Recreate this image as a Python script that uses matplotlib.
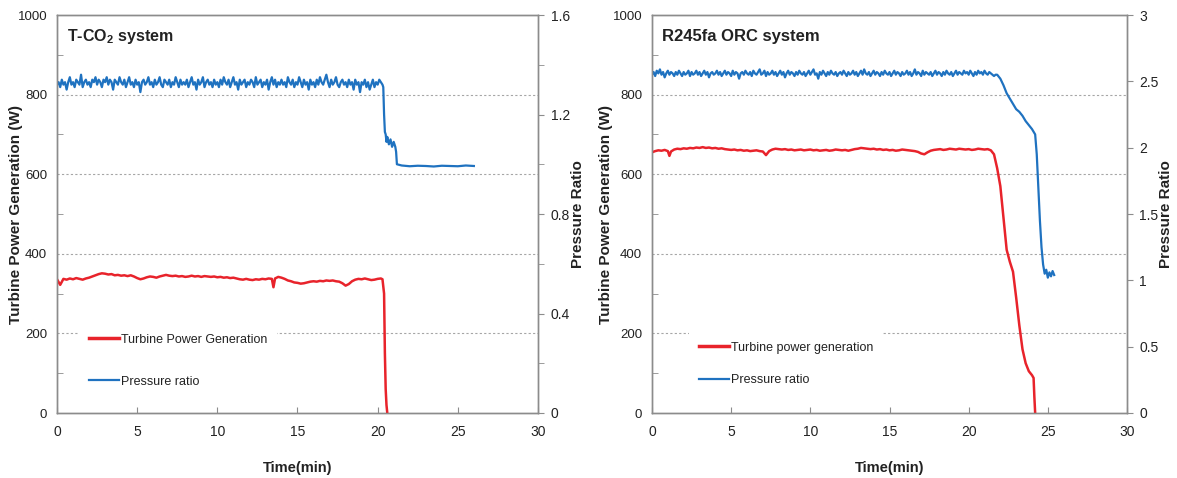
import numpy as np
import matplotlib
matplotlib.use('Agg')
import matplotlib.pyplot as plt
from matplotlib.ticker import MultipleLocator
from matplotlib.lines import Line2D

# ---- T-CO2 system ----
# pressure ratio logged every 0.1 min until the shutdown
tco2_pr_t = np.round(np.arange(0, 20.35, 0.1), 2)
tco2_pr = [
    1.32, 1.33, 1.31, 1.34, 1.32, 1.33, 1.30, 1.33, 1.35, 1.32, 1.33, 1.31, 1.34, 1.33, 1.32, 1.36, 1.31, 1.33, 1.34, 1.32,
    1.33, 1.31, 1.34, 1.33, 1.35, 1.32, 1.34, 1.33, 1.31, 1.34, 1.33, 1.35, 1.32, 1.34, 1.33, 1.30, 1.34, 1.33, 1.32, 1.35,
    1.33, 1.32, 1.34, 1.31, 1.33, 1.35, 1.32, 1.33, 1.31, 1.34, 1.32, 1.33, 1.29, 1.33, 1.34, 1.32, 1.33, 1.35, 1.32, 1.33,
    1.31, 1.34, 1.32, 1.33, 1.35, 1.32, 1.31, 1.34, 1.33, 1.32, 1.34, 1.31, 1.33, 1.32, 1.35, 1.33, 1.31, 1.34, 1.32, 1.33,
    1.32, 1.34, 1.31, 1.33, 1.35, 1.32, 1.33, 1.30, 1.34, 1.32, 1.33, 1.35, 1.31, 1.33, 1.34, 1.32, 1.33, 1.31, 1.34, 1.32,
    1.33, 1.31, 1.34, 1.32, 1.35, 1.33, 1.32, 1.34, 1.31, 1.33, 1.35, 1.32, 1.33, 1.30, 1.34, 1.32, 1.33, 1.34, 1.31, 1.33,
    1.32, 1.34, 1.33, 1.31, 1.35, 1.32, 1.33, 1.34, 1.31, 1.33, 1.32, 1.34, 1.30, 1.33, 1.35, 1.32, 1.34, 1.31, 1.33, 1.32,
    1.34, 1.32, 1.33, 1.31, 1.35, 1.33, 1.32, 1.34, 1.31, 1.33, 1.32, 1.35, 1.33, 1.31, 1.34, 1.32, 1.33, 1.30, 1.34, 1.32,
    1.33, 1.31, 1.34, 1.32, 1.35, 1.33, 1.32, 1.34, 1.36, 1.33, 1.31, 1.34, 1.32, 1.33, 1.35, 1.32, 1.31, 1.33, 1.34, 1.32,
    1.33, 1.31, 1.34, 1.32, 1.33, 1.30, 1.34, 1.32, 1.33, 1.29, 1.33, 1.32, 1.34, 1.31, 1.33, 1.30, 1.32, 1.34, 1.31, 1.33,
    1.32, 1.34, 1.33, 1.32,
]
tco2_pr_tail_t = [20.35, 20.4, 20.45, 20.5, 20.55, 20.6, 20.7, 20.8, 20.9, 21.0, 21.1, 21.15, 21.2,
                  21.5, 22.0, 22.5, 23.0, 23.5, 24.0, 24.5, 25.0, 25.5, 26.0]
tco2_pr_tail = [1.31, 1.20, 1.13, 1.12, 1.09, 1.11, 1.08, 1.10, 1.07, 1.09, 1.07, 1.05, 1.00,
                0.995, 0.992, 0.994, 0.993, 0.991, 0.994, 0.993, 0.992, 0.995, 0.993]

# turbine power (W)
tco2_pw_t = [0.0, 0.2, 0.4, 0.6, 0.8, 1.0, 1.2, 1.4, 1.6, 1.8, 2.0, 2.2, 2.4, 2.6, 2.8, 3.0, 3.2, 3.4, 3.6, 3.8,
             4.0, 4.2, 4.4, 4.6, 4.8, 5.0, 5.2, 5.4, 5.6, 5.8, 6.0, 6.2, 6.4, 6.6, 6.8, 7.0, 7.2, 7.4, 7.6, 7.8,
             8.0, 8.2, 8.4, 8.6, 8.8, 9.0, 9.2, 9.4, 9.6, 9.8, 10.0, 10.2, 10.4, 10.6, 10.8, 11.0, 11.2, 11.4,
             11.6, 11.8, 12.0, 12.2, 12.4, 12.6, 12.8, 13.0, 13.2, 13.4, 13.5, 13.6, 13.8, 14.0, 14.2, 14.4,
             14.6, 14.8, 15.0, 15.2, 15.4, 15.6, 15.8, 16.0, 16.2, 16.4, 16.6, 16.8, 17.0, 17.2, 17.4, 17.6,
             17.8, 18.0, 18.2, 18.4, 18.6, 18.8, 19.0, 19.2, 19.4, 19.6, 19.8, 20.0, 20.2, 20.3, 20.4, 20.45,
             20.5, 20.55, 20.6]
tco2_pw = [336, 322, 337, 335, 338, 336, 339, 337, 335, 338, 340, 343, 346, 349, 351, 350, 348, 349, 346, 347,
           345, 346, 344, 346, 343, 339, 336, 338, 341, 343, 342, 340, 343, 345, 347, 345, 344, 345, 343, 344,
           342, 343, 345, 343, 344, 342, 344, 343, 342, 343, 341, 342, 340, 341, 339, 340, 338, 336,
           335, 337, 335, 334, 336, 335, 337, 336, 338, 337, 316, 338, 342, 340, 337, 333,
           331, 328, 327, 325, 326, 328, 330, 331, 330, 332, 331, 333, 332, 333, 331, 330,
           326, 320, 324, 331, 335, 337, 336, 338, 336, 334, 335, 337, 338, 336, 300, 150,
           60, 20, 0]

# ---- R245fa ORC system ----
orc_pr_t = np.round(np.arange(0, 21.75, 0.1), 2)
orc_pr = [
    2.55, 2.57, 2.54, 2.58, 2.56, 2.59, 2.55, 2.57, 2.53, 2.56, 2.58, 2.55, 2.57, 2.56, 2.54, 2.57, 2.55, 2.58, 2.56, 2.54,
    2.57, 2.55, 2.56, 2.58, 2.54, 2.57, 2.55, 2.56, 2.58, 2.55, 2.57, 2.54, 2.56, 2.58, 2.55, 2.57, 2.53, 2.56, 2.57, 2.55,
    2.56, 2.58, 2.55, 2.57, 2.54, 2.56, 2.58, 2.55, 2.57, 2.56, 2.54, 2.58, 2.55, 2.57, 2.56, 2.52, 2.56, 2.57, 2.55, 2.58,
    2.56, 2.55, 2.57, 2.54, 2.58, 2.56, 2.55, 2.57, 2.59, 2.55, 2.56, 2.58, 2.54, 2.57, 2.55, 2.56, 2.58, 2.55, 2.57, 2.54,
    2.56, 2.58, 2.55, 2.57, 2.53, 2.56, 2.58, 2.55, 2.57, 2.56, 2.54, 2.57, 2.55, 2.58, 2.56, 2.55, 2.57, 2.54, 2.56, 2.58,
    2.55, 2.57, 2.59, 2.55, 2.56, 2.52, 2.57, 2.55, 2.58, 2.56, 2.54, 2.57, 2.55, 2.58, 2.56, 2.55, 2.57, 2.54, 2.56, 2.57,
    2.55, 2.58, 2.56, 2.54, 2.57, 2.55, 2.56, 2.58, 2.55, 2.57, 2.54, 2.56, 2.58, 2.55, 2.59, 2.56, 2.55, 2.57, 2.54, 2.56,
    2.58, 2.55, 2.57, 2.56, 2.54, 2.57, 2.55, 2.58, 2.56, 2.55, 2.57, 2.54, 2.56, 2.58, 2.55, 2.57, 2.56, 2.54, 2.57, 2.55,
    2.56, 2.58, 2.55, 2.57, 2.54, 2.56, 2.59, 2.55, 2.57, 2.56, 2.54, 2.58, 2.55, 2.57, 2.56, 2.55, 2.57, 2.54, 2.56, 2.58,
    2.55, 2.57, 2.56, 2.54, 2.57, 2.55, 2.58, 2.56, 2.55, 2.57, 2.54, 2.56, 2.58, 2.55, 2.57, 2.56, 2.55, 2.58, 2.56, 2.57,
    2.55, 2.58, 2.56, 2.54, 2.57, 2.55, 2.58, 2.56, 2.57, 2.55, 2.58, 2.56, 2.55, 2.57, 2.56, 2.55, 2.54, 2.55,
]
orc_pr_tail_t = [21.8, 22.0, 22.2, 22.4, 22.6, 22.8, 23.0, 23.2, 23.4, 23.6, 23.8, 24.0, 24.1, 24.2, 24.3,
                 24.4, 24.5, 24.6, 24.7, 24.8, 24.9, 25.0, 25.1, 25.2, 25.3, 25.4]
orc_pr_tail = [2.55, 2.52, 2.47, 2.41, 2.37, 2.33, 2.29, 2.27, 2.24, 2.20, 2.17, 2.14, 2.12, 2.10, 1.95,
               1.70, 1.45, 1.25, 1.12, 1.05, 1.08, 1.02, 1.06, 1.03, 1.07, 1.04]

orc_pw_t = [0.0, 0.2, 0.4, 0.6, 0.8, 1.0, 1.1, 1.2, 1.4, 1.6, 1.8, 2.0, 2.2, 2.4, 2.6, 2.8, 3.0, 3.2, 3.4,
            3.6, 3.8, 4.0, 4.2, 4.4, 4.6, 4.8, 5.0, 5.2, 5.4, 5.6, 5.8, 6.0, 6.2, 6.4, 6.6, 6.8, 7.0, 7.2,
            7.4, 7.6, 7.8, 8.0, 8.2, 8.4, 8.6, 8.8, 9.0, 9.2, 9.4, 9.6, 9.8, 10.0, 10.2, 10.4, 10.6, 10.8,
            11.0, 11.2, 11.4, 11.6, 11.8, 12.0, 12.2, 12.4, 12.6, 12.8, 13.0, 13.2, 13.4, 13.6, 13.8, 14.0,
            14.2, 14.4, 14.6, 14.8, 15.0, 15.2, 15.4, 15.6, 15.8, 16.0, 16.2, 16.4, 16.6, 16.8, 17.0, 17.2,
            17.4, 17.6, 17.8, 18.0, 18.2, 18.4, 18.6, 18.8, 19.0, 19.2, 19.4, 19.6, 19.8, 20.0, 20.2, 20.4,
            20.6, 20.8, 21.0, 21.2, 21.4, 21.6, 21.8, 22.0, 22.2, 22.4, 22.6, 22.8, 23.0, 23.2, 23.4, 23.6,
            23.8, 24.0, 24.1, 24.15, 24.2]
orc_pw = [655, 658, 660, 659, 661, 658, 646, 657, 662, 664, 663, 665, 664, 666, 665, 667, 666, 668, 666,
          667, 665, 666, 664, 665, 663, 662, 661, 662, 660, 661, 659, 660, 658, 659, 660, 658, 657, 648,
          658, 662, 664, 663, 662, 663, 661, 662, 660, 661, 662, 660, 661, 662, 660, 661, 659, 660,
          661, 659, 660, 662, 661, 660, 661, 659, 661, 663, 664, 666, 665, 664, 663, 664,
          662, 663, 661, 662, 660, 661, 659, 660, 662, 661, 660, 659, 658, 656, 652, 650,
          655, 659, 661, 662, 663, 661, 662, 664, 663, 662, 664, 663, 662, 663, 661, 662,
          664, 663, 662, 663, 660, 650, 615, 570, 490, 410, 380, 355, 290, 220, 160, 125,
          105, 95, 88, 40, 0]

RED = '#e8232b'
BLUE = '#1f72c0'
GRID = '#a6a6a6'
SPINE = '#8c8c8c'
INK = '#222222'

plt.rcParams['font.family'] = ['Liberation Sans', 'DejaVu Sans']
plt.rcParams['mathtext.fontset'] = 'custom'
plt.rcParams['mathtext.bf'] = 'Liberation Sans:bold'
plt.rcParams['mathtext.rm'] = 'Liberation Sans'

fig = plt.figure(figsize=(11.77, 4.78), dpi=100)
ax1 = fig.add_axes([57 / 1177, 65 / 478, 481 / 1177, 398 / 478])
ax2 = fig.add_axes([652 / 1177, 65 / 478, 475 / 1177, 398 / 478])


def fmt_num(v, pos):
    return '%g' % round(v, 2)


def style_panel(ax, axr, title, title_size, rmax, rmajor, rminor, ylx, yrx):
    ax.set_xlim(0, 30)
    ax.set_ylim(0, 1000)
    axr.set_ylim(0, rmax)
    ax.xaxis.set_major_locator(MultipleLocator(5))
    ax.yaxis.set_major_locator(MultipleLocator(200))
    ax.yaxis.set_minor_locator(MultipleLocator(100))
    axr.yaxis.set_major_locator(MultipleLocator(rmajor))
    axr.yaxis.set_minor_locator(MultipleLocator(rminor))
    axr.yaxis.set_major_formatter(fmt_num)
    for a in (ax, axr):
        for s in a.spines.values():
            s.set_color(SPINE)
            s.set_linewidth(1.0)
    ax.tick_params(axis='both', which='both', direction='in', color=SPINE, length=4,
                   labelsize=9.5, labelcolor=INK)
    ax.tick_params(axis='x', pad=9, labelsize=10)
    ax.tick_params(axis='y', which='major', length=0, pad=7)
    axr.tick_params(axis='y', which='both', direction='out', color=SPINE, length=4,
                    labelsize=10, labelcolor=INK, pad=5)
    for v in (200, 400, 600, 800):
        ax.axhline(v, color=GRID, lw=0.8, ls=(0, (2, 2)), zorder=0)
    ax.set_xlabel('Time(min)', fontweight='bold', fontsize=10.5, color=INK)
    ax.xaxis.set_label_coords(0.5, -0.12)
    ax.set_ylabel('Turbine Power Generation (W)', fontweight='bold', fontsize=11, color=INK)
    ax.yaxis.set_label_coords(ylx, 0.5)
    axr.set_ylabel('Pressure Ratio', fontweight='bold', fontsize=11, color=INK)
    axr.yaxis.set_label_coords(yrx, 0.5)
    ax.text(0.02, 0.945, title, transform=ax.transAxes, fontweight='bold',
            fontsize=title_size, va='center', ha='left', color=INK)


# left panel
ax1r = ax1.twinx()
ax1.plot(tco2_pw_t, tco2_pw, color=RED, lw=1.8, zorder=3)
ax1r.plot(np.concatenate([tco2_pr_t, tco2_pr_tail_t]), tco2_pr + tco2_pr_tail, color=BLUE, lw=1.6)
style_panel(ax1, ax1r, r'T-CO$_\mathbf{2}$ system', 11.5, 1.6, 0.4, 0.2, -0.07, 1.069)

# right panel
ax2r = ax2.twinx()
ax2.plot(orc_pw_t, orc_pw, color=RED, lw=1.8, zorder=3)
ax2r.plot(np.concatenate([orc_pr_t, orc_pr_tail_t]), orc_pr + orc_pr_tail, color=BLUE, lw=1.6)
style_panel(ax2, ax2r, 'R245fa ORC system', 12, 3, 0.5, 0.5, -0.082, 1.068)

# legends sit on the twin axes so their white boxes cover the gridlines
for axr, labels, anchor, spacing in (
        (ax1r, ['Turbine Power Generation', 'Pressure ratio'], (0.033, 0.24), 2.4),
        (ax2r, ['Turbine power generation', 'Pressure ratio'], (0.065, 0.22), 1.65)):
    handles = [Line2D([], [], color=RED, lw=2.5), Line2D([], [], color=BLUE, lw=1.6)]
    leg = axr.legend(handles, labels, loc='upper left', bbox_to_anchor=anchor,
                     frameon=True, fancybox=False, handlelength=2.4, handletextpad=0.15,
                     labelspacing=spacing, fontsize=9, borderpad=0.8)
    leg.get_frame().set_facecolor('white')
    leg.get_frame().set_edgecolor('none')
    leg.get_frame().set_alpha(1)
    for t in leg.get_texts():
        t.set_color(INK)

fig.savefig('out.png', dpi=100)
